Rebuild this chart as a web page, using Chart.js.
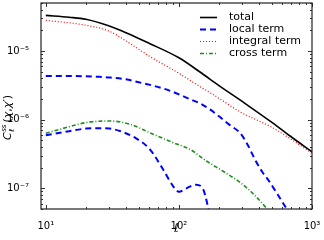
<!DOCTYPE html>
<html><head><meta charset="utf-8">
<script src="https://cdn.jsdelivr.net/npm/chart.js@4/dist/chart.umd.min.js"></script>
<style>html,body{margin:0;padding:0;background:#fff;}canvas{display:block;}</style>
</head><body>
<canvas id="c" width="324" height="240"></canvas>
<script>
// ---- data ----
const ellTotal   = [10, 15, 20, 30, 40, 60, 100, 144, 200, 313, 500, 684, 1000];
const valTotal   = [3.3e-5, 3.1e-5, 2.9e-5, 2.31e-5, 1.85e-5, 1.29e-5, 7.96e-6, 4.94e-6, 3.13e-6, 1.73e-6, 9.1e-7, 5.78e-7, 3.4e-7];

const ellIntegral = [10, 20, 30, 40, 60, 100, 144, 200, 288, 500, 684, 1000];
const valIntegral = [2.8e-5, 2.37e-5, 1.94e-5, 1.4e-5, 8.4e-6, 4.73e-6, 3.03e-6, 2.05e-6, 1.3e-6, 7.74e-7, 5.3e-7, 3.24e-7];

const ellLocal = [10, 15, 20, 25.5, 30, 40, 50, 68, 85, 100, 120, 144, 170, 200, 240, 288, 330, 372, 420, 483, 550, 627, 680];
const valLocal = [4.33e-6, 4.32e-6, 4.28e-6, 4.2e-6, 4.12e-6, 3.87e-6, 3.5e-6, 3.03e-6, 2.65e-6, 2.34e-6, 2.0e-6, 1.73e-6, 1.42e-6, 1.12e-6, 8.4e-7, 6.4e-7, 4.24e-7, 2.65e-7, 1.77e-7, 1.22e-7, 8.2e-8, 5.5e-8, 4.2e-8];

const ellLocal2 = [10, 15, 20, 25, 30, 36, 48, 60.5, 76, 90.6, 100, 114, 134, 152, 165, 170];
const valLocal2 = [5.92e-7, 6.8e-7, 7.41e-7, 7.5e-7, 7.41e-7, 6.84e-7, 5.3e-7, 3.7e-7, 1.89e-7, 1.07e-7, 8.9e-8, 1.0e-7, 1.13e-7, 9.7e-8, 5.5e-8, 4.2e-8];

const ellCross = [10, 15, 20, 30, 43, 60, 90, 121, 161, 215, 288, 372, 456, 490];
const valCross = [6.33e-7, 7.9e-7, 9.06e-7, 9.57e-7, 8.57e-7, 6.49e-7, 4.64e-7, 3.7e-7, 2.5e-7, 1.77e-7, 1.22e-7, 7.9e-8, 5.1e-8, 4.3e-8];

const seriesNames = ['total', 'local term', 'integral term', 'cross term'];

const xTickValues = [10,20,30,40,50,60,70,80,90,100,200,300,400,500,600,700,800,900,1000];
const xTickLabels = ['10¹','','','','','','','','','10²','','','','','','','','','10³'];
const yTickValues = [5e-8,6e-8,7e-8,8e-8,9e-8,1e-7,2e-7,3e-7,4e-7,5e-7,6e-7,7e-7,8e-7,9e-7,
                     1e-6,2e-6,3e-6,4e-6,5e-6,6e-6,7e-6,8e-6,9e-6,1e-5,2e-5,3e-5,4e-5,5e-5];
const yTickLabels = ['','','','','','10⁻⁷','','','','','','','','',
                     '10⁻⁶','','','','','','','','','10⁻⁵','','','',''];
const xTitle = 'ℓ';

const pts = (xs, ys) => xs.map((x, i) => ({x: x, y: ys[i]}));

const styles = {
  total:    {color:'#000000', width:1.6, dash:[]},
  local:    {color:'#0000ff', width:2, dash:[6,4]},
  integral: {color:'#ff0000', width:1.2, dash:[1,2]},
  cross:    {color:'#1f8f1f', width:1.6, dash:[4,2,1,2]}
};

function ds(label, data, st) {
  return {label, data, borderColor: st.color, borderWidth: st.width, borderDash: st.dash,
          pointRadius: 0, fill: false, cubicInterpolationMode: 'monotone'};
}

const legendItems = [
  {text: seriesNames[0], st: styles.total},
  {text: seriesNames[1], st: styles.local},
  {text: seriesNames[2], st: styles.integral},
  {text: seriesNames[3], st: styles.cross}
];

const decor = {
  id: 'decor',
  afterDatasetsDraw(chart) {
    const {ctx, chartArea: {left, right, top, bottom}, scales: {x, y}} = chart;
    ctx.save();
    ctx.strokeStyle = '#333'; ctx.lineWidth = 1;
    xTickValues.forEach((v, i) => {
      const px = Math.round(x.getPixelForValue(v)) + 0.5;
      const len = xTickLabels[i] ? 4 : 2;
      ctx.beginPath();
      ctx.moveTo(px, bottom); ctx.lineTo(px, bottom - len);
      ctx.moveTo(px, top); ctx.lineTo(px, top + len);
      ctx.stroke();
    });
    yTickValues.forEach((v, i) => {
      const py = Math.round(y.getPixelForValue(v)) + 0.5;
      const len = yTickLabels[i] ? 4 : 2;
      ctx.beginPath();
      ctx.moveTo(left, py); ctx.lineTo(left + len, py);
      ctx.moveTo(right, py); ctx.lineTo(right - len, py);
      ctx.stroke();
    });
    ctx.strokeStyle = '#222'; ctx.lineWidth = 1.2;
    ctx.strokeRect(left, top, right - left, bottom - top);

    // legend
    const lx0 = 200, lx1 = 217, tx = 229;
    let ly = 17.5;
    ctx.font = '11px "DejaVu Sans"';
    ctx.textBaseline = 'middle';
    ctx.textAlign = 'left';
    legendItems.forEach(it => {
      ctx.strokeStyle = it.st.color; ctx.lineWidth = it.st.width;
      ctx.setLineDash(it.st.dash);
      ctx.beginPath(); ctx.moveTo(lx0, ly); ctx.lineTo(lx1, ly); ctx.stroke();
      ctx.setLineDash([]);
      ctx.fillStyle = '#000';
      ctx.fillText(it.text, tx, ly);
      ly += 12;
    });

    // x title
    ctx.font = 'italic 12px "DejaVu Sans"';
    ctx.textAlign = 'center';
    ctx.fillText(xTitle, (left + right) / 2, 229);

    // y title: C_ℓ^{ss}(χ,χ′), rotated
    ctx.translate(8.5, 112);
    ctx.rotate(-Math.PI / 2);
    ctx.textAlign = 'left';
    let cx = -28;
    ctx.font = 'italic 11px "DejaVu Sans"';
    ctx.fillText('C', cx, 0);
    cx += ctx.measureText('C').width + 0.5;
    ctx.font = 'italic 7px "DejaVu Sans"';
    ctx.fillText('ss', cx, -4);
    ctx.fillText('ℓ', cx, 3.5);
    cx += ctx.measureText('ss').width + 2;
    ctx.font = '11px "DejaVu Sans"';
    ctx.fillText('(', cx, 0); cx += ctx.measureText('(').width;
    ctx.font = 'italic 11px "DejaVu Sans"';
    ctx.fillText('χ', cx, 0); cx += ctx.measureText('χ').width;
    ctx.font = '11px "DejaVu Sans"';
    ctx.fillText(',', cx, 0); cx += ctx.measureText(',').width;
    ctx.font = 'italic 11px "DejaVu Sans"';
    ctx.fillText('χ′', cx, 0); cx += ctx.measureText('χ′').width;
    ctx.font = '11px "DejaVu Sans"';
    ctx.fillText(')', cx, 0);
    ctx.restore();
  }
};

new Chart(document.getElementById('c'), {
  type: 'line',
  data: {
    datasets: [
      ds(seriesNames[0], pts(ellTotal, valTotal), styles.total),
      ds(seriesNames[1], pts(ellLocal, valLocal), styles.local),
      ds(seriesNames[1], pts(ellLocal2, valLocal2), styles.local),
      ds(seriesNames[2], pts(ellIntegral, valIntegral), styles.integral),
      ds(seriesNames[3], pts(ellCross, valCross), styles.cross)
    ]
  },
  options: {
    responsive: false, animation: false, devicePixelRatio: 1,
    layout: {padding: {top: 3, right: 12, left: 0, bottom: 0}},
    plugins: {legend: {display: false}, tooltip: {enabled: false}},
    scales: {
      x: {
        type: 'logarithmic', min: 9.2, max: 1000,
        grid: {display: false}, border: {display: false},
        afterBuildTicks: s => { s.ticks = xTickValues.map(v => ({value: v})); },
        afterFit: s => { s.height = 31; s.paddingLeft = 0; s.paddingRight = 0; },
        ticks: {autoSkip: false, maxRotation: 0, minRotation: 0, padding: 3, color: '#000',
                font: {family: 'DejaVu Sans', size: 10},
                callback: (v, i) => xTickLabels[i]}
      },
      y: {
        type: 'logarithmic', min: 5e-8, max: 5e-5,
        grid: {display: false}, border: {display: false},
        afterBuildTicks: s => { s.ticks = yTickValues.map(v => ({value: v})); },
        afterFit: s => { s.width = 41; s.paddingTop = 0; s.paddingBottom = 0; },
        ticks: {autoSkip: false, padding: 4, color: '#000',
                font: {family: 'DejaVu Sans', size: 10},
                callback: (v, i) => yTickLabels[i]}
      }
    }
  },
  plugins: [decor]
});
</script>
</body></html>
